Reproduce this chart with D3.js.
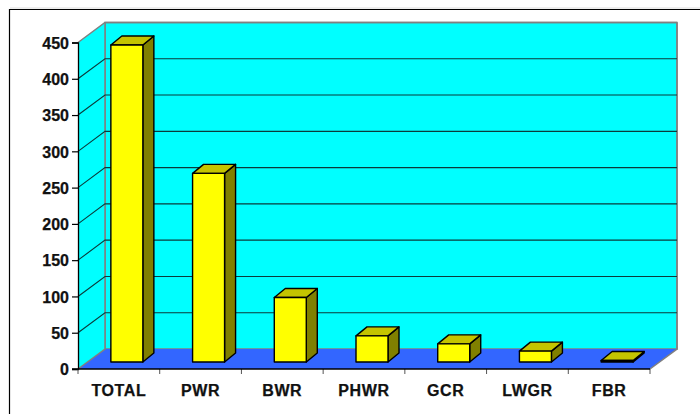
<!DOCTYPE html>
<html>
<head>
<meta charset="utf-8">
<script src="https://cdn.jsdelivr.net/npm/d3@7/dist/d3.min.js"></script>
<style>
html,body{margin:0;padding:0;background:#fff;}
svg{display:block;}
text{font-family:"Liberation Sans",Arial,sans-serif;font-weight:bold;font-size:16px;fill:#111;stroke:#111;stroke-width:0.25px;}
</style>
</head>
<body>
<svg id="chart" width="700" height="414"></svg>
<script>
const categories = ["TOTAL","PWR","BWR","PHWR","GCR","LWGR","FBR"];
const reactorCounts = [437,260,89,36,25,15,2];
const tickValues = [0,50,100,150,200,250,300,350,400,450];

const svg = d3.select("#chart");
const x = d3.scaleBand().domain(categories).range([78,650]).paddingInner(0).paddingOuter(0);
const y = d3.scaleLinear().domain([0,450]).range([369,42.5]);

// Oblique projection offsets for the wall and for each column
const wallDx = 27, wallDy = -20;
const barDx = 11, barDy = -9, barLift = -7, barShift = 8;
const barWidth = 32;

const poly = pts => pts.map(p => p.join(",")).join(" ");

// Outer frame: open on the right and bottom edges
svg.append("path").attr("d","M9.5,414V9.5H700").attr("fill","none").attr("stroke","#000").attr("stroke-width",1.2);
svg.append("line").attr("x1",10).attr("x2",700).attr("y1",8).attr("y2",8).attr("stroke","#ddd");

const x0 = x.range()[0], x1 = x.range()[1], yB = y(0), yT = y(450);

// Back wall and side wall
svg.append("rect").attr("x",x0+wallDx).attr("y",yT+wallDy).attr("width",x1-x0).attr("height",yB-yT)
  .attr("fill","#00ffff").attr("stroke","#808080").attr("stroke-width",1.5);
svg.append("polygon").attr("points",poly([[x0,yB],[x0,yT],[x0+wallDx,yT+wallDy],[x0+wallDx,yB+wallDy]]))
  .attr("fill","#00ffff");

// Floor
svg.append("polygon").attr("points",poly([[x0,yB],[x0+wallDx,yB+wallDy],[x1+wallDx,yB+wallDy],[x1,yB]]))
  .attr("fill","#3366ff").attr("stroke","none");
svg.append("path").attr("d",`M${x0+wallDx},${yT+wallDy}V${yB+wallDy}L${x0},${yB}`)
  .attr("fill","none").attr("stroke","#808080").attr("stroke-width",1.5);
svg.append("path").attr("d",`M${x1},${yB}L${x1+wallDx},${yB+wallDy}V${yT+wallDy}`)
  .attr("fill","none").attr("stroke","#808080").attr("stroke-width",1.5);

// Gridlines wrapping from the side wall onto the back wall
const grid = svg.append("g");
tickValues.filter(v => v > 0 && v < 450).forEach(v => {
  grid.append("path")
    .attr("d",`M${x0},${y(v)}L${x0+wallDx},${y(v)+wallDy}H${x1+wallDx}`)
    .attr("fill","none").attr("stroke","#0b3b3b").attr("stroke-width",1.1);
});
svg.append("path").attr("d",`M${x0},${yT}L${x0+wallDx},${yT+wallDy}H${x1+wallDx}`)
  .attr("fill","none").attr("stroke","#808080").attr("stroke-width",1.5);

// Columns
const bars = svg.append("g").selectAll("g")
  .data(categories.map((c,i) => ({c, v: reactorCounts[i]})))
  .join("g")
  .attr("stroke","#000").attr("stroke-width",1.4).attr("stroke-linejoin","round");
const bl = d => x(d.c) + (x.bandwidth()-barWidth)/2 + barShift;
const br = d => bl(d) + barWidth;
const bb = () => y(0) + barLift;
const bt = d => y(d.v) + barLift;
bars.append("polygon").attr("fill","#808000")
  .attr("points",d => poly([[br(d),bt(d)],[br(d)+barDx,bt(d)+barDy],[br(d)+barDx,bb()+barDy],[br(d),bb()]]));
bars.append("polygon").attr("fill","#c4c400")
  .attr("points",d => poly([[bl(d),bt(d)],[bl(d)+barDx,bt(d)+barDy],[br(d)+barDx,bt(d)+barDy],[br(d),bt(d)]]));
bars.append("rect").attr("fill","#ffff00")
  .attr("x",bl).attr("y",bt).attr("width",barWidth).attr("height",d => bb()-bt(d));

// Axes
const yAxis = d3.axisLeft(y).tickValues(tickValues).tickSize(6).tickPadding(3);
const gy = svg.append("g").attr("transform",`translate(${x0},0)`).call(yAxis);
gy.selectAll("text").attr("dy","0.36em").attr("fill","#111")
  .style("font-size","16px").style("font-family",'"Liberation Sans"').style("font-weight","bold");
gy.select(".domain").attr("stroke","#000").attr("stroke-width",1.3);
gy.selectAll(".tick line").attr("stroke","#000").attr("stroke-width",1.2);

const boundaries = categories.map(c => x(c)).concat([x1]);
svg.append("g").selectAll("line").data(boundaries).join("line")
  .attr("x1",d => d).attr("x2",d => d).attr("y1",yB).attr("y2",yB+5)
  .attr("stroke","#555").attr("stroke-width",1);
svg.append("line").attr("x1",x0-6).attr("x2",x1).attr("y1",yB).attr("y2",yB)
  .attr("stroke","#000").attr("stroke-width",1.6);

svg.append("g").selectAll("text").data(categories).join("text")
  .attr("x",c => x(c)+x.bandwidth()/2).attr("y",396).attr("text-anchor","middle")
  .style("letter-spacing","0.6px")
  .text(c => c);
</script>
</body>
</html>
